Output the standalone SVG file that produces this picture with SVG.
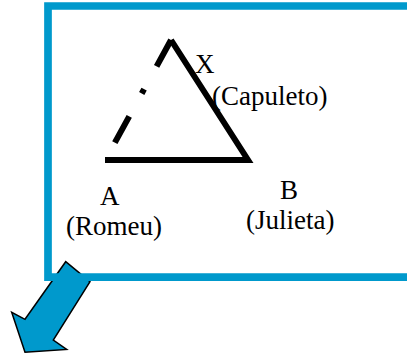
<svg xmlns="http://www.w3.org/2000/svg" width="407" height="354" viewBox="0 0 407 354">
<style>
.lbl{font-family:"Liberation Serif","Times New Roman",serif;font-size:27px;fill:#000}
.edge{fill:none;stroke:#000;stroke-width:6}
</style>
<rect width="407" height="354" fill="#fff"/>
<g id="arrow">
<polygon points="65.7,261.7 90,281.7 53.3,340 66.7,349.5 25,352.3 11.7,312.3 25,319.3" fill="#0099cc" stroke="#000" stroke-width="1.5" stroke-linejoin="miter"/>
</g>
<g id="frame">
<polyline points="420,6 48,6 48,277.2 420,277.2" fill="none" stroke="#0099cc" stroke-width="7.7"/>
</g>
<g id="connectors">
<polyline class="edge" points="171,40 248,160 105,160" stroke-linejoin="miter"/>
<line class="edge" x1="171" y1="40" x2="113" y2="146" stroke-dasharray="30 26 5 26"/>
</g>
<g id="node-X">
<text class="lbl" x="195" y="73">X</text>
<text class="lbl" x="212" y="104.5">(Capuleto)</text>
</g>
<g id="node-A">
<text class="lbl" x="100" y="205">A</text>
<text class="lbl" x="66" y="235">(Romeu)</text>
</g>
<g id="node-B">
<text class="lbl" x="280" y="199">B</text>
<text class="lbl" x="246" y="228.5">(Julieta)</text>
</g>
</svg>
